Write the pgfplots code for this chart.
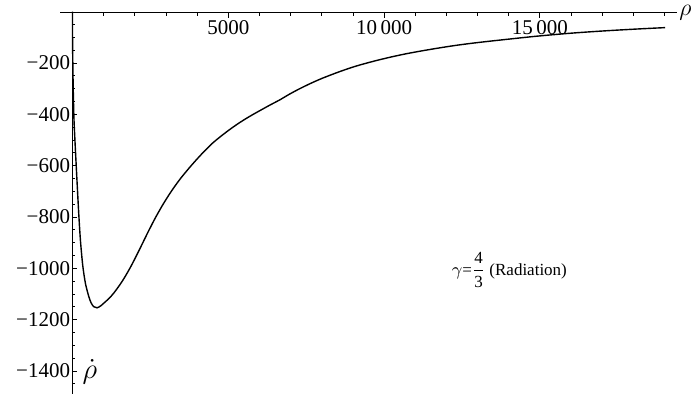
\documentclass[border=0pt]{standalone}
\usepackage{fontspec}
\setmainfont{Liberation Serif}
\usepackage{pgfplots}
\pgfplotsset{compat=1.18}
\begin{document}
\begin{tikzpicture}
\begin{axis}[
 name=ax,
 scale only axis,
 width=308.5bp, height=190.5bp,
 xmin=-400, xmax=19400,
 ymin=-1490, ymax=-5,
 axis x line=top,
 axis y line=middle,
 axis line style={-, line width=0.5bp, black},
 tick style={line width=0.4bp, black},
 major tick length=2.5bp, minor tick length=1.5bp,
 tick align=inside,
 scaled ticks=false,
 xtick={5000,10000,15000},
 xticklabels={5000, 10\,000, 15\,000},
 minor xtick={1000,2000,...,19000},
 ytick={-1400,-1200,...,-200},
 yticklabels={−1400,−1200,−1000,−800,−600,−400,−200},
 minor ytick={-1450,-1400,...,-50},
 ticklabel style={font=\fontsize{10.5bp}{12bp}\selectfont},
 x tick label style={anchor=north},
 y tick label style={anchor=east, inner sep=1bp},
 clip=false,
]
\addplot[black, line width=0.7bp, smooth, tension=0.5] coordinates {
(0,0) (2,-85) (6,-147) (12,-208) (20,-270) (32,-344) (50,-425) (75,-490)
(100,-552) (148,-665) (203,-790) (257,-893) (331,-990) (418,-1060) (524,-1110)
(600,-1135) (685,-1150) (790,-1154) (900,-1147) (1006,-1136) (1167,-1118)
(1330,-1096) (1600,-1050) (1865,-995) (2130,-932) (2400,-865) (2640,-808)
(2881,-756) (3150,-704) (3418,-658) (3690,-617) (3955,-580) (4222,-545)
(4489,-513) (4757,-486) (5026,-461) (5294,-438) (5563,-417) (5830,-398)
(6096,-380) (6365,-362) (6633,-345) (6955,-322) (7277,-301) (7650,-279)
(8026,-259) (8563,-234) (9100,-212) (9635,-194) (10170,-178) (10705,-164)
(11241,-152) (11778,-141) (12315,-131) (12850,-122.5) (13386,-115) (14029,-106.5)
(14894,-95.5) (15965,-84) (17035,-75) (18109,-67.5) (19019,-62)
};
\node[anchor=west, inner sep=0, font=\fontsize{13bp}{13bp}\selectfont] at (rel axis cs:1,1) [xshift=1bp] {$\rho$};
\node[font=\fontsize{15bp}{15bp}\selectfont, inner sep=0] at (axis cs:560,-1404) {$\dot{\rho}$};
\node[font=\fontsize{8.5bp}{10bp}\selectfont, inner sep=0] at (axis cs:14020,-1006) {$\gamma$=$\displaystyle\frac{\mbox{4}}{\mbox{3}}$ (Radiation)};
\end{axis}
\pgfresetboundingbox
\path ([xshift=-30bp]ax.south west) rectangle ([xshift=8.5bp,yshift=6.5bp]ax.north east);
\end{tikzpicture}
\end{document}
